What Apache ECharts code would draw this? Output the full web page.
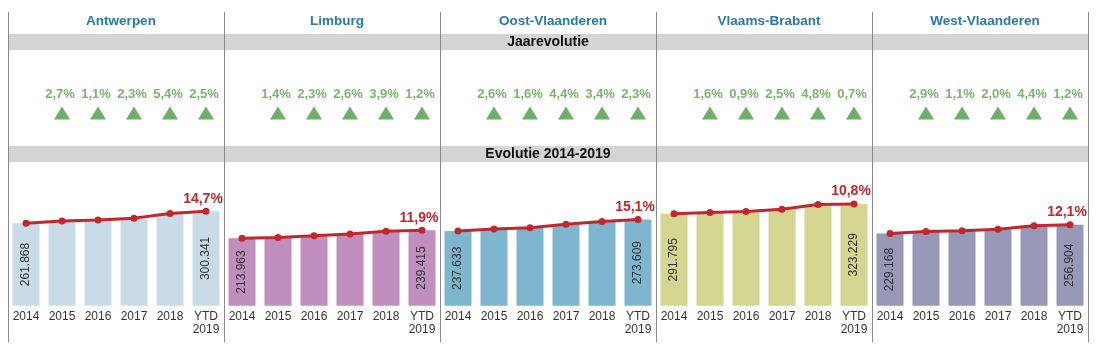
<!DOCTYPE html>
<html>
<head>
<meta charset="utf-8">
<script src="https://cdn.jsdelivr.net/npm/echarts@6/dist/echarts.min.js"></script>
<style>
html,body{margin:0;padding:0;background:#fff;}
#c{width:1100px;height:362px;}
</style>
</head>
<body>
<div id="c"></div>
<script>
const provinces = ['Antwerpen', 'Limburg', 'Oost-Vlaanderen', 'Vlaams-Brabant', 'West-Vlaanderen'];
const categories = ['2014', '2015', '2016', '2017', '2018', 'YTD\n2019'];
const antwerpen = [261868, 268900, 271900, 278200, 293200, 300341];
const limburg = [213963, 217000, 221900, 227700, 236600, 239415];
const oostVlaanderen = [237633, 243800, 247700, 258600, 267400, 273609];
const vlaamsBrabant = [291795, 296500, 299100, 306600, 321300, 323229];
const westVlaanderen = [229168, 235800, 238400, 243200, 253900, 256904];
const growthAntwerpen = [null, 2.7, 1.1, 2.3, 5.4, 2.5];
const growthLimburg = [null, 1.4, 2.3, 2.6, 3.9, 1.2];
const growthOost = [null, 2.6, 1.6, 4.4, 3.4, 2.3];
const growthVlaams = [null, 1.6, 0.9, 2.5, 4.8, 0.7];
const growthWest = [null, 2.9, 1.1, 2.0, 4.4, 1.2];
const totalGrowth = ['14,7%', '11,9%', '15,1%', '10,8%', '12,1%'];

const values = [antwerpen, limburg, oostVlaanderen, vlaamsBrabant, westVlaanderen];
const growth = [growthAntwerpen, growthLimburg, growthOost, growthVlaams, growthWest];
const barColors = ['#c9dbe7', '#c18fbe', '#7db6ce', '#d4d591', '#9798b7'];

const FONT = 'Liberation Sans, Arial, sans-serif';
const X0 = 8, PW = 216;

const grid = [], xAxis = [], yAxis = [], series = [], title = [];
const fmtNum = v => String(v).replace(/\B(?=(\d{3})+(?!\d))/g, '.');

provinces.forEach((p, i) => {
  const left = X0 + PW * i;
  title.push({
    text: p, left: left + PW / 2, top: 9, textAlign: 'center',
    textStyle: {fontFamily: FONT, fontSize: 13.5, fontWeight: 'bold', color: '#2779ad'}
  });
  grid.push({left: left, width: PW, top: 179.8, height: 125.9});
  xAxis.push({
    type: 'category', gridIndex: 2 * i, data: categories,
    axisLine: {show: false}, axisTick: {show: false},
    axisLabel: {fontFamily: FONT, fontSize: 12, color: '#333', margin: 4, lineHeight: 13, interval: 0}
  });
  yAxis.push({type: 'value', gridIndex: 2 * i, min: 0, max: 400000, show: false, splitLine: {show: false}});
  grid.push({left: left, width: PW, top: 100, height: 26});
  xAxis.push({type: 'category', gridIndex: 2 * i + 1, data: categories, show: false});
  yAxis.push({type: 'value', gridIndex: 2 * i + 1, min: 0, max: 1, show: false, splitLine: {show: false}});

  series.push({
    type: 'bar', xAxisIndex: 2 * i, yAxisIndex: 2 * i, data: values[i],
    barCategoryGap: '25%', itemStyle: {color: barColors[i]}, silent: true,
    label: {
      show: true, position: 'inside', rotate: 90,
      fontFamily: FONT, fontSize: 12, color: '#333',
      formatter: d => (d.dataIndex === 0 || d.dataIndex === 5) ? fmtNum(d.value) : ''
    }
  });
  series.push({
    type: 'line', xAxisIndex: 2 * i, yAxisIndex: 2 * i, data: values[i],
    lineStyle: {color: '#c1272d', width: 3}, itemStyle: {color: '#c1272d'},
    symbol: 'circle', symbolSize: 7, silent: true, z: 5,
    label: {
      show: true, position: 'top', distance: 2, offset: [-3, 0],
      fontFamily: FONT, fontSize: 14, fontWeight: 'bold', color: '#c1272d',
      formatter: d => d.dataIndex === 5 ? totalGrowth[i] : ''
    }
  });
  series.push({
    type: 'scatter', xAxisIndex: 2 * i + 1, yAxisIndex: 2 * i + 1,
    data: growth[i].map(g => g === null ? null : {value: 0.5, g: g}),
    symbol: 'triangle', symbolSize: [16, 13], itemStyle: {color: '#4a9b45'}, silent: true,
    label: {
      show: true, position: 'top', distance: 6, offset: [-2, 0],
      fontFamily: FONT, fontSize: 13, fontWeight: 'bold', color: '#5a9f4a',
      formatter: d => d.data && d.data.g != null ? d.data.g.toFixed(1).replace('.', ',') + '%' : ''
    }
  });
});

const graphic = [
  {type: 'rect', shape: {x: 8, y: 34, width: 1080, height: 16}, style: {fill: '#d4d4d4'}, z: 0},
  {type: 'rect', shape: {x: 8, y: 146, width: 1080, height: 16}, style: {fill: '#d4d4d4'}, z: 0},
  {type: 'text', x: 548, y: 42, style: {text: 'Jaarevolutie', fontFamily: FONT, fontSize: 14, fontWeight: 'bold', fill: '#111', textAlign: 'center', textVerticalAlign: 'middle'}, z: 2},
  {type: 'text', x: 548, y: 154, style: {text: 'Evolutie 2014-2019', fontFamily: FONT, fontSize: 14, fontWeight: 'bold', fill: '#111', textAlign: 'center', textVerticalAlign: 'middle'}, z: 2}
];
for (let k = 0; k <= 5; k++) {
  const x = X0 + PW * k + 0.5;
  graphic.push({type: 'line', shape: {x1: x, y1: 12, x2: x, y2: 342}, style: {stroke: '#8a8a8a', lineWidth: 1}, z: 3});
}

const chart = echarts.init(document.getElementById('c'), null, {renderer: 'canvas'});
chart.setOption({
  animation: false,
  backgroundColor: '#fff',
  title, grid, xAxis, yAxis, series, graphic
});
</script>
</body>
</html>
